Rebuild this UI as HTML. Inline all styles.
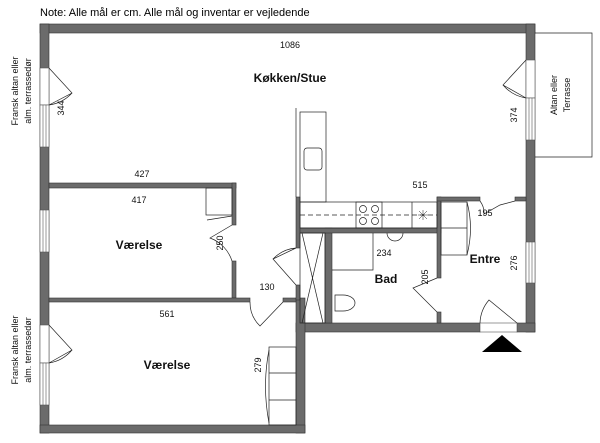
<!DOCTYPE html>
<html><head><meta charset="utf-8"><style>
html,body{margin:0;padding:0;background:#fff;}
svg{display:block;font-family:"Liberation Sans",sans-serif;}
</style></head><body>
<svg width="600" height="443" viewBox="0 0 600 443" xmlns="http://www.w3.org/2000/svg">
<rect width="600" height="443" fill="#fff"/>
<text x="40" y="16" font-size="11" fill="#000">Note: Alle mål er cm. Alle mål og inventar er vejledende</text>
<g fill="#6b6b6b" stroke="#333" stroke-width="0.6">
<!-- outer top -->
<rect x="40" y="24" width="495" height="9"/>
<!-- left wall -->
<rect x="40" y="24" width="9" height="409"/>
<!-- right wall -->
<rect x="526" y="24" width="9" height="308"/>
<!-- bad/entre bottom -->
<rect x="296" y="323" width="184" height="9"/>
<rect x="517" y="323" width="18" height="9"/>
<!-- lower right wall -->
<rect x="296" y="298" width="9" height="135"/>
<!-- bottom -->
<rect x="40" y="425" width="265" height="8"/>
<!-- kitchen/værelse wall -->
<rect x="49" y="183" width="187" height="5"/>
<rect x="232" y="183" width="4" height="42"/>
<rect x="232" y="261" width="4" height="37"/>
<!-- værelse divider -->
<rect x="49" y="298" width="201" height="4"/>
<rect x="283" y="298" width="13" height="4"/>
<!-- hall wall -->
<rect x="296" y="197" width="4" height="51"/>
<rect x="296" y="285" width="4" height="15"/>
<!-- bath left -->
<rect x="325" y="228" width="7" height="95"/>
<!-- bath top -->
<rect x="300" y="228" width="141" height="5"/>
<!-- bath right -->
<rect x="437" y="197" width="4" height="81"/>
<rect x="437" y="312" width="4" height="11"/>
<!-- entre top -->
<rect x="437" y="197" width="43" height="4"/>
<rect x="515" y="197" width="11" height="4"/>
</g>
<g fill="#fff" stroke="#555" stroke-width="0.6">
<!-- left openings -->
<rect x="40" y="68" width="9" height="37"/>
<rect x="40" y="105" width="9" height="42"/><line x1="43" y1="105" x2="43" y2="147"/><line x1="46" y1="105" x2="46" y2="147"/>
<rect x="40" y="210" width="9" height="42"/><line x1="43" y1="210" x2="43" y2="252"/><line x1="46" y1="210" x2="46" y2="252"/>
<rect x="40" y="325" width="9" height="38"/>
<rect x="40" y="363" width="9" height="42"/><line x1="43" y1="363" x2="43" y2="405"/><line x1="46" y1="363" x2="46" y2="405"/>
<!-- right openings -->
<rect x="526" y="60" width="9" height="38"/>
<rect x="526" y="98" width="9" height="42"/><line x1="529" y1="98" x2="529" y2="140"/><line x1="532" y1="98" x2="532" y2="140"/>
<rect x="526" y="242" width="9" height="41"/><line x1="529" y1="242" x2="529" y2="283"/><line x1="532" y1="242" x2="532" y2="283"/>
<rect x="480" y="323" width="37" height="9"/>
</g>
<g fill="none" stroke="#222" stroke-width="0.7">
<!-- balcony -->
<polyline points="535,33 592,33 592,157 535,157"/>
<!-- kitchen counter -->
<line x1="296" y1="108" x2="296" y2="197"/>
<rect x="300" y="112" width="26" height="90"/>
<rect x="304" y="148" width="18" height="22" rx="3"/>
<rect x="300" y="202" width="137" height="26"/>
<line x1="300" y1="215" x2="437" y2="215" stroke-dasharray="5,3"/>
<rect x="356" y="202" width="26" height="26"/>
<line x1="412" y1="202" x2="412" y2="228"/>
<circle cx="363" cy="209" r="3.5"/><circle cx="375" cy="209" r="3.5"/>
<circle cx="363" cy="221" r="3.5"/><circle cx="375" cy="221" r="3.5"/>
<path d="M418,215h10M423,210v10M419,211l8,8M427,211l-8,8" stroke-width="0.5"/>
<!-- closet X -->
<rect x="300" y="233" width="25" height="90"/>
<line x1="302" y1="233" x2="323" y2="323"/><line x1="323" y1="233" x2="302" y2="323"/>
<!-- bath -->
<polyline points="332,270 373,270 373,233"/>
<path d="M387,233 a7,7 0 0 0 16,0"/>
<path d="M335,295 h8 a12,8 0 0 1 0,16 h-8 z"/>
<!-- entre wardrobe -->
<rect x="441" y="202" width="26" height="53"/><line x1="441" y1="228" x2="467" y2="228"/>
<path d="M467,202 Q474,228 467,255"/>
<!-- værelse closet -->
<rect x="206" y="188" width="26" height="27"/>
<line x1="207" y1="220" x2="232" y2="216"/>
<!-- lower wardrobe -->
<rect x="269" y="347" width="27" height="78"/>
<line x1="269" y1="373" x2="296" y2="373"/><line x1="269" y1="400" x2="296" y2="400"/>
<path d="M269,350 Q262,386 269,423"/>
<!-- doors -->
<path d="M49,68 L72,93 L49,105 A38,38 0 0 0 72,93"/>
<path d="M526,60 L503,85 L526,98 A38,38 0 0 1 503,85"/>
<path d="M49,325 L72,350 L49,363 A38,38 0 0 0 72,350"/>
<path d="M232,225 L210,238 A36,36 0 0 1 232,261"/>
<path d="M296,248 L273,259 L296,285 M273,259 A36,36 0 0 1 296,248"/>
<path d="M250,302 A33,33 0 0 0 260,326 L283,302"/>
<path d="M480,201 A20,20 0 0 1 484,214 L500,205 L515,201" />
<path d="M437,278 L413,288 L437,312"/>
<path d="M480,323 A37,37 0 0 1 489,300 L517,323"/>
</g>
<polygon points="502,335 482,352 522,352" fill="#000"/>
<g font-size="9" fill="#111">
<text x="290" y="48" text-anchor="middle">1086</text>
<text x="142" y="177" text-anchor="middle">427</text>
<text x="139" y="203" text-anchor="middle">417</text>
<text x="420" y="188" text-anchor="middle">515</text>
<text x="167" y="317" text-anchor="middle">561</text>
<text x="267" y="290" text-anchor="middle">130</text>
<text x="384" y="256" text-anchor="middle">234</text>
<text x="485" y="216" text-anchor="middle">195</text>
<text transform="translate(64,108) rotate(-90)" text-anchor="middle">344</text>
<text transform="translate(517,115) rotate(-90)" text-anchor="middle">374</text>
<text transform="translate(223,243) rotate(-90)" text-anchor="middle">250</text>
<text transform="translate(428,277) rotate(-90)" text-anchor="middle">205</text>
<text transform="translate(517,263) rotate(-90)" text-anchor="middle">276</text>
<text transform="translate(261,365) rotate(-90)" text-anchor="middle">279</text>
<text transform="translate(18,91) rotate(-90)" text-anchor="middle">Fransk altan eller</text>
<text transform="translate(31,91) rotate(-90)" text-anchor="middle">alm. terrassedør</text>
<text transform="translate(18,350) rotate(-90)" text-anchor="middle">Fransk altan eller</text>
<text transform="translate(31,350) rotate(-90)" text-anchor="middle">alm. terrassedør</text>
<text transform="translate(557,95) rotate(-90)" text-anchor="middle">Altan eller</text>
<text transform="translate(570,95) rotate(-90)" text-anchor="middle">Terrasse</text>
</g>
<g font-size="12" font-weight="bold" fill="#111" text-anchor="middle">
<text x="290" y="82">Køkken/Stue</text>
<text x="139" y="249">Værelse</text>
<text x="167" y="369">Værelse</text>
<text x="386" y="283">Bad</text>
<text x="485" y="263">Entre</text>
</g>
</svg>
</body></html>
